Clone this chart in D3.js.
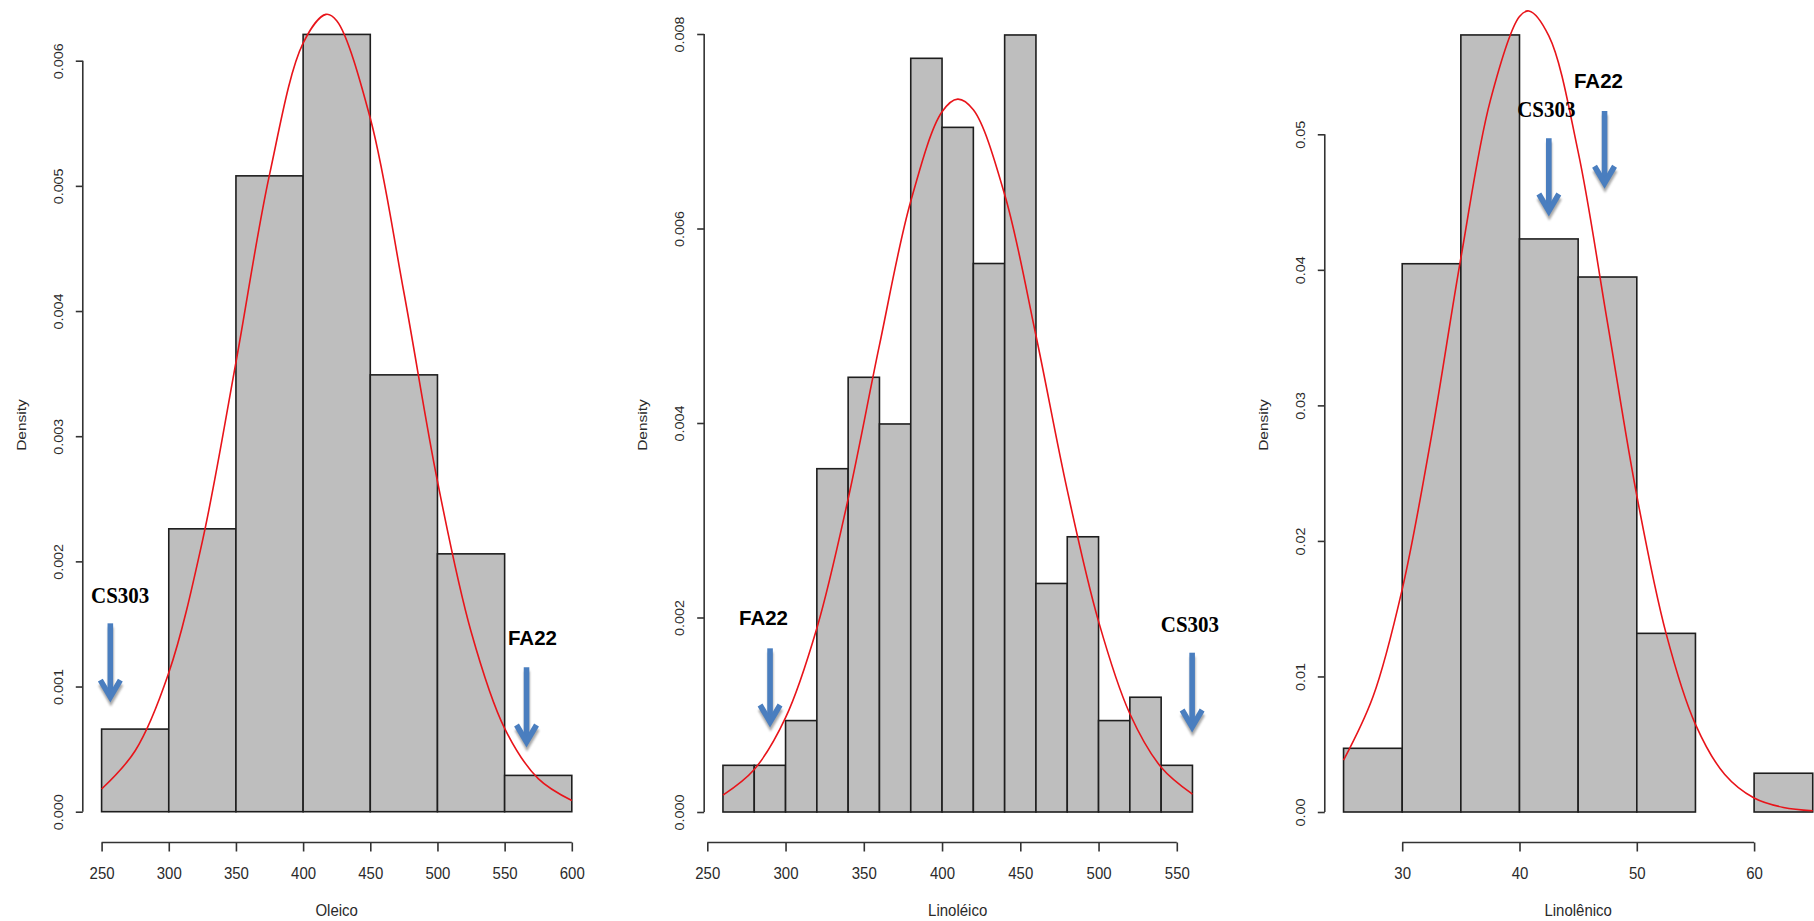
<!DOCTYPE html>
<html>
<head>
<meta charset="utf-8">
<script src="https://cdn.jsdelivr.net/npm/d3@7"></script>
<style>
  html, body { margin: 0; padding: 0; background: #fff; }
  svg { display: block; }
</style>
</head>
<body>
<svg id="chart"></svg>
<script>
// ---- data ----
const oleicoBreaks = [250, 300, 350, 400, 450, 500, 550, 600];
const oleicoDensity = [0.00066, 0.00226, 0.00508, 0.00621, 0.00349, 0.00206, 0.00029];
const oleicoCurveX = [250, 275, 300, 325, 350, 375, 400, 417, 425, 450, 475, 500, 525, 550, 575, 600];
const oleicoCurveY = [0.000181, 0.000487, 0.00111, 0.00216, 0.00359, 0.00509, 0.00614, 0.00637, 0.00632, 0.00554, 0.00415, 0.00264, 0.00144, 0.000666, 0.000264, 0.0000888];
const oleicoTicksX = [250, 300, 350, 400, 450, 500, 550, 600];
const oleicoTicksY = [0, 0.001, 0.002, 0.003, 0.004, 0.005, 0.006];

const linoleicoBreaks = [260, 280, 300, 320, 340, 360, 380, 400, 420, 440, 460, 480, 500, 520, 540, 560];
const linoleicoDensity = [0.00048, 0.00048, 0.00094, 0.00353, 0.00447, 0.00399, 0.00775, 0.00704, 0.00564, 0.00799, 0.00235, 0.00283, 0.00094, 0.00118, 0.00048];
const linoleicoCurveX = [260, 280, 300, 320, 340, 360, 380, 400, 410, 420, 440, 460, 480, 500, 520, 540, 560];
const linoleicoCurveY = [0.000174, 0.000438, 0.00097, 0.00189, 0.00322, 0.0048, 0.00628, 0.0072, 0.00733, 0.00722, 0.00635, 0.0049, 0.00331, 0.00196, 0.00101, 0.00046, 0.000183];
const linoleicoTicksX = [250, 300, 350, 400, 450, 500, 550];
const linoleicoTicksY = [0, 0.002, 0.004, 0.006, 0.008];

const linolenicoBreaks = [25, 30, 35, 40, 45, 50, 55, 60, 65];
const linolenicoDensity = [0.0047, 0.04045, 0.05733, 0.04228, 0.03947, 0.01318, 0, 0.00286];
const linolenicoCurveX = [25, 27.5, 30, 32.5, 35, 37.5, 40, 40.8, 42.5, 45, 47.5, 50, 52.5, 55, 57.5, 60, 62.5, 65];
const linolenicoCurveY = [0.00382, 0.00848, 0.01643, 0.02775, 0.04086, 0.05245, 0.05869, 0.0591, 0.05726, 0.0487, 0.03611, 0.02334, 0.01316, 0.00647, 0.00277, 0.001035, 0.000337, 0.0000957];
const linolenicoTicksX = [30, 40, 50, 60];
const linolenicoTicksY = [0, 0.01, 0.02, 0.03, 0.04, 0.05];

// genotype markers: label position, arrow x, arrow top and tip (data units)
const oleicoMarks = [
  {label: "CS303", serif: true,  lx: 263.8, ly: 0.001667, ax: 256.5, top: 0.001505, tip: 0.000876},
  {label: "FA22",  serif: false, lx: 570.7, ly: 0.001332, ax: 566.3, top: 0.001154, tip: 0.000517}
];
const linoleicoMarks = [
  {label: "FA22",  serif: false, lx: 285.9, ly: 0.001923, ax: 290.1, top: 0.001683, tip: 0.000874},
  {label: "CS303", serif: true,  lx: 558.4, ly: 0.001854, ax: 559.8, top: 0.001638, tip: 0.000823}
];
const linolenicoMarks = [
  {label: "CS303", serif: true,  lx: 42.29, ly: 0.05128, ax: 42.5,  top: 0.04971, tip: 0.04397},
  {label: "FA22",  serif: false, lx: 46.73, ly: 0.05339, ax: 47.25, top: 0.05172, tip: 0.04602}
];

// ---- layout ----
const width = 1814, height = 921;
const axisY = 842.5;
const sy = 1.15;   // the source picture is a little stretched vertically

const svg = d3.select("#chart").attr("width", width).attr("height", height);
svg.append("rect").attr("width", width).attr("height", height).attr("fill", "#fff");

const defs = svg.append("defs");
defs.append("filter").attr("id", "shadow")
  .attr("x", "-50%").attr("y", "-50%").attr("width", "200%").attr("height", "200%")
  .append("feGaussianBlur").attr("stdDeviation", 1.2);

function drawPanel(p) {
  const x = d3.scaleLinear().domain(p.xDomain).range(p.xRange);
  const y = d3.scaleLinear().domain(p.yDomain).range(p.yRange);
  const g = svg.append("g");

  const bmin = p.breaks[0], bmax = p.breaks[p.breaks.length - 1];
  const yAxisX = x(bmin - 0.04 * (bmax - bmin));

  // bars
  const bins = p.density.map((d, i) => ({x0: p.breaks[i], x1: p.breaks[i + 1], d: d}));
  g.selectAll("rect.bar").data(bins).enter().append("rect")
    .attr("class", "bar")
    .attr("x", d => x(d.x0))
    .attr("y", d => y(d.d))
    .attr("width", d => x(d.x1) - x(d.x0))
    .attr("height", d => y(0) - y(d.d))
    .attr("fill", "#bebebe")
    .attr("stroke", "#1e1e1e")
    .attr("stroke-width", 1.6);

  // normal curve
  const pts = p.curveX.map((v, i) => [v, p.curveY[i]]);
  g.append("path")
    .datum(pts)
    .attr("fill", "none")
    .attr("stroke", "#e8141a")
    .attr("stroke-width", 1.6)
    .attr("d", d3.line().x(d => x(d[0])).y(d => y(d[1])).curve(d3.curveCatmullRom));

  // x axis
  const xAxis = d3.axisBottom(x).tickValues(p.ticksX).tickSize(9).tickSizeOuter(0);
  const gx = g.append("g").attr("transform", `translate(0,${axisY})`).call(xAxis);
  gx.select(".domain").remove();
  gx.append("line")
    .attr("x1", x(p.ticksX[0])).attr("x2", x(p.ticksX[p.ticksX.length - 1]))
    .attr("stroke", "#333").attr("stroke-width", 1.6);
  gx.selectAll(".tick line").attr("stroke", "#333").attr("stroke-width", 1.6);
  gx.selectAll(".tick text")
    .attr("dy", null)
    .attr("y", 36.5 / sy)
    .attr("transform", `scale(1,${sy})`)
    .attr("fill", "#2a2a2a")
    .style("font-family", "'Liberation Sans', Arial, sans-serif")
    .style("font-size", "15px");

  // y axis
  const yAxis = d3.axisLeft(y).tickValues(p.ticksY).tickSize(7).tickSizeOuter(0).tickFormat(d3.format(p.yFormat));
  const gy = g.append("g").attr("transform", `translate(${yAxisX},0)`).call(yAxis);
  gy.select(".domain").remove();
  gy.append("line")
    .attr("y1", y(p.ticksY[0])).attr("y2", y(p.ticksY[p.ticksY.length - 1]))
    .attr("stroke", "#333").attr("stroke-width", 1.6);
  gy.selectAll(".tick line").attr("stroke", "#333").attr("stroke-width", 1.6);
  gy.selectAll(".tick text")
    .attr("x", null).attr("dy", null)
    .attr("text-anchor", "middle")
    .attr("transform", `translate(-19.7,0) scale(1,${sy}) rotate(-90)`)
    .attr("fill", "#2a2a2a")
    .style("font-family", "'Liberation Sans', Arial, sans-serif")
    .style("font-size", "12.5px");

  // axis titles
  g.append("text")
    .attr("transform", `translate(${(x(bmin) + x(bmax)) / 2},916) scale(1,${sy})`)
    .attr("text-anchor", "middle")
    .attr("fill", "#2a2a2a")
    .style("font-family", "'Liberation Sans', Arial, sans-serif")
    .style("font-size", "15px")
    .text(p.xLabel);

  g.append("text")
    .attr("transform", `translate(${yAxisX - 57},425) scale(1,${sy}) rotate(-90)`)
    .attr("text-anchor", "middle")
    .attr("fill", "#2a2a2a")
    .style("font-family", "'Liberation Sans', Arial, sans-serif")
    .style("font-size", "13.5px")
    .text("Density");

  // marker arrows and labels
  p.marks.forEach(m => {
    const ax = x(m.ax), top = y(m.top), tip = y(m.tip);
    const tipC = tip - 5;
    const arrow = (dx, dy, color, extra) => {
      const a = g.append("g").attr("transform", `translate(${dx},${dy})`);
      a.append("line")
        .attr("x1", ax).attr("x2", ax).attr("y1", top).attr("y2", tipC - 2)
        .attr("stroke", color).attr("stroke-width", 5.6);
      a.append("path")
        .attr("d", `M${ax - 10},${tipC - 17}L${ax},${tipC}L${ax + 10},${tipC - 17}`)
        .attr("fill", "none").attr("stroke", color).attr("stroke-width", 5.6)
        .attr("stroke-linejoin", "miter").attr("stroke-miterlimit", 6);
      if (extra) extra(a);
    };
    arrow(0.5, 4, "#8c8c8c", a => a.attr("filter", "url(#shadow)").attr("opacity", 0.75));
    arrow(0, 0, "#4a7ebf");

    g.append("text")
      .attr("transform", `translate(${x(m.lx)},${y(m.ly)}) scale(1,${m.serif ? 1.08 : 1.03})`)
      .attr("text-anchor", "middle")
      .attr("fill", "#000")
      .style("font-family", m.serif ? "'Liberation Serif', 'Times New Roman', serif" : "'Liberation Sans', Arial, sans-serif")
      .style("font-weight", "bold")
      .style("font-size", m.serif ? "21px" : "20.5px")
      .text(m.label);
  });
}

drawPanel({
  breaks: oleicoBreaks, density: oleicoDensity,
  curveX: oleicoCurveX, curveY: oleicoCurveY,
  ticksX: oleicoTicksX, ticksY: oleicoTicksY, yFormat: ".3f",
  xDomain: [250, 600], xRange: [101.6, 571.8],
  yDomain: [0, 0.006], yRange: [811.7, 60.7],
  xLabel: "Oleico", marks: oleicoMarks
});

drawPanel({
  breaks: linoleicoBreaks, density: linoleicoDensity,
  curveX: linoleicoCurveX, curveY: linoleicoCurveY,
  ticksX: linoleicoTicksX, ticksY: linoleicoTicksY, yFormat: ".3f",
  xDomain: [250, 550], xRange: [707.3, 1176.8],
  yDomain: [0, 0.008], yRange: [812, 34],
  xLabel: "Linoléico", marks: linoleicoMarks
});

drawPanel({
  breaks: linolenicoBreaks, density: linolenicoDensity,
  curveX: linolenicoCurveX, curveY: linolenicoCurveY,
  ticksX: linolenicoTicksX, ticksY: linolenicoTicksY, yFormat: ".2f",
  xDomain: [30, 60], xRange: [1402.2, 1754.1],
  yDomain: [0, 0.05], yRange: [812, 134.3],
  xLabel: "Linolênico", marks: linolenicoMarks
});
</script>
</body>
</html>
